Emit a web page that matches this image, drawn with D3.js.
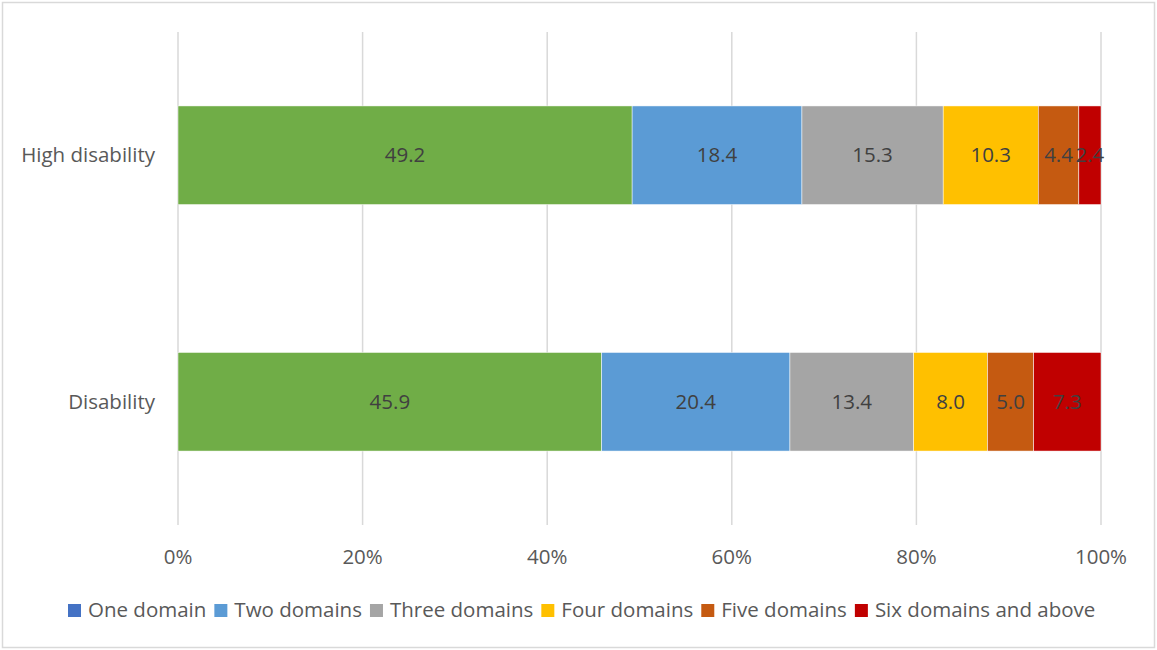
<!DOCTYPE html>
<html>
<head>
<meta charset="utf-8">
<script src="https://cdn.jsdelivr.net/npm/d3@7"></script>
<style>
  body { margin: 0; background: #fff; }
  svg { font-family: "Open Sans", "Noto Sans", sans-serif; }
</style>
</head>
<body>
<div id="chart"></div>
<script>
// Data
const categories = ["High disability", "Disability"];
const seriesNames = ["One domain", "Two domains", "Three domains", "Four domains", "Five domains", "Six domains and above"];
const highDisability = [49.2, 18.4, 15.3, 10.3, 4.4, 2.4];
const disability = [45.9, 20.4, 13.4, 8.0, 5.0, 7.3];
const tickValues = [0, 0.2, 0.4, 0.6, 0.8, 1];

// bar colours (first series is green in the bars, dark blue in the legend)
const barColors = ["#70ad47", "#5b9bd5", "#a5a5a5", "#ffc000", "#c55a11", "#c00000"];
const legendColors = ["#4472c4", "#5b9bd5", "#a5a5a5", "#ffc000", "#c55a11", "#c00000"];

const width = 1157, height = 650;
const margin = { top: 32, right: 56, bottom: 125, left: 178 };
const fontSize = 20.5;

const svg = d3.select("#chart")
  .append("svg")
  .attr("width", width)
  .attr("height", height);

// outer border
svg.append("rect")
  .attr("x", 2.5).attr("y", 2.5)
  .attr("width", width - 5).attr("height", height - 5)
  .attr("fill", "#fff")
  .attr("stroke", "#d9d9d9")
  .attr("stroke-width", 1.5);

const x = d3.scaleLinear()
  .domain([0, 1])
  .range([margin.left, width - margin.right]);

const y = d3.scaleBand()
  .domain(categories)
  .range([margin.top, height - margin.bottom])
  .paddingInner(0.6)
  .paddingOuter(0.3);

// gridlines
svg.append("g")
  .selectAll("line")
  .data(tickValues)
  .join("line")
  .attr("x1", d => x(d)).attr("x2", d => x(d))
  .attr("y1", margin.top).attr("y2", height - margin.bottom)
  .attr("stroke", "#d9d9d9")
  .attr("stroke-width", 1.5);

// x axis labels
svg.append("g")
  .selectAll("text")
  .data(tickValues)
  .join("text")
  .attr("x", d => x(d))
  .attr("y", 557)
  .attr("dy", "0.35em")
  .attr("text-anchor", "middle")
  .attr("fill", "#595959")
  .attr("font-size", fontSize)
  .text(d => d3.format(".0%")(d));

// category labels
svg.append("g")
  .selectAll("text")
  .data(categories)
  .join("text")
  .attr("x", 155)
  .attr("y", d => y(d) + y.bandwidth() / 2)
  .attr("dy", "0.35em")
  .attr("text-anchor", "end")
  .attr("fill", "#595959")
  .attr("font-size", fontSize)
  .text(d => d);

// stacked data
const rows = categories.map((c, i) => {
  const vals = i === 0 ? highDisability : disability;
  const total = d3.sum(vals);
  const row = { category: c };
  seriesNames.forEach((s, j) => { row[s] = vals[j] / total; row[s + "_raw"] = vals[j]; });
  return row;
});

const stack = d3.stack().keys(seriesNames);
const stacked = stack(rows);

const layers = svg.append("g")
  .selectAll("g")
  .data(stacked)
  .join("g")
  .attr("fill", (d, i) => barColors[i]);

layers.selectAll("rect")
  .data(d => d)
  .join("rect")
  .attr("x", d => x(d[0]))
  .attr("y", d => y(d.data.category))
  .attr("width", d => x(d[1]) - x(d[0]))
  .attr("height", y.bandwidth())
  .attr("stroke", "#fff")
  .attr("stroke-width", 0.5);

// data labels
layers.each(function (layer) {
  d3.select(this).selectAll("text")
    .data(layer)
    .join("text")
    .attr("x", d => (x(d[0]) + x(d[1])) / 2)
    .attr("y", d => y(d.data.category) + y.bandwidth() / 2)
    .attr("dy", "0.35em")
    .attr("text-anchor", "middle")
    .attr("fill", "#404040")
    .attr("font-size", fontSize)
    .text(d => d.data[layer.key + "_raw"].toFixed(1));
});

// legend
const legend = svg.append("g").attr("font-size", fontSize).attr("fill", "#595959");
let lx = 68;
seriesNames.forEach((s, i) => {
  legend.append("rect")
    .attr("x", lx).attr("y", 604)
    .attr("width", 13).attr("height", 13)
    .attr("fill", legendColors[i]);
  const t = legend.append("text")
    .attr("x", lx + 20).attr("y", 610)
    .attr("dy", "0.35em")
    .text(s);
  lx += 20 + t.node().getComputedTextLength() + 8;
});
</script>
</body>
</html>
